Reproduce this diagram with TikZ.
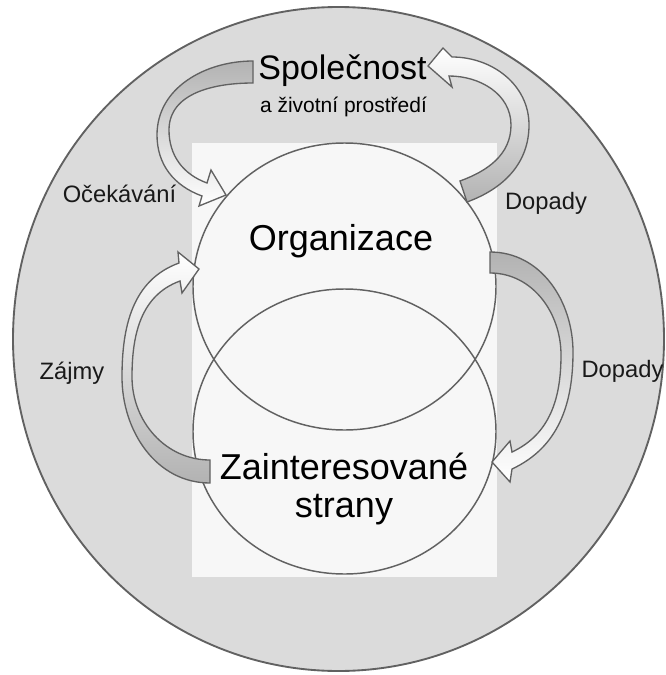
\documentclass[tikz,border=0pt]{standalone}
\usepackage{fontspec}
\setmainfont{Liberation Sans}
\begin{document}
\begin{tikzpicture}[x=0.75pt,y=0.75pt,
  ring/.style={draw=black!62, line width=1.4pt, fill=black!14},
  panel/.style={fill=black!3, draw=none},
  venn/.style={draw=black!62, line width=1.1pt},
  blockarrow/.style={draw=black!62, line width=1pt, line join=miter},
  tailup/.style={blockarrow, top color=black!30, bottom color=white},
  taildown/.style={blockarrow, bottom color=black!30, top color=white},
  title/.style={font=\fontsize{25.5}{30}\selectfont, inner sep=0pt, anchor=base},
  subtitle/.style={font=\fontsize{15.75}{19}\selectfont, inner sep=0pt, anchor=base},
  circletext/.style={font=\fontsize{27}{28.5}\selectfont, inner sep=0pt, anchor=base, align=center},
  flowlabel/.style={font=\fontsize{17.8}{21}\selectfont, inner sep=0pt, anchor=base, text=black!90}
]
\useasboundingbox (0,0) rectangle (665,-675);

% surroundings
\draw[ring] (338.5,-339) ellipse [x radius=325.5, y radius=332];
\fill[panel] (192,-143) rectangle (497,-577);

% organisation and stakeholders
\draw[venn] (344.5,-286.5) ellipse [x radius=151.5, y radius=143.5];
\draw[venn] (344.5,-431.5) ellipse [x radius=151.5, y radius=142.5];

% named ends of the flows
\coordinate (expTip) at (226,-195);
\coordinate (impTopTip) at (428,-66);
\coordinate (impRightTip) at (492,-462);
\coordinate (intTip) at (199,-269);

% expectations: society -> organisation
\path[tailup] (253,-61) to[out=180,in=90] (157,-135) to[out=270,in=160] (202,-196)
  -- (199,-206) -- (expTip) -- (211,-170) -- (207,-183)
  to[out=160,in=270] (169,-130) to[out=90,in=180] (253,-83) -- cycle;

% impacts: organisation -> society
\path[taildown] (467,-202) to[out=20,in=270] (529,-125) to[out=90,in=0] (452,-57)
  -- (443,-48) -- (impTopTip) -- (452,-87) -- (449,-76)
  to[out=0,in=90] (511,-125) to[out=270,in=20] (460,-181) -- cycle;

% impacts: organisation -> stakeholders
\path[tailup] (490,-252) to[out=0,in=90] (573,-352) to[out=270,in=25] (512,-469)
  -- (510,-482) -- (impRightTip) -- (510,-441) -- (512,-452)
  to[out=25,in=270] (561,-355) to[out=90,in=0] (490,-273) -- cycle;

% interests: stakeholders -> organisation
\path[taildown] (210,-483) to[out=180,in=270] (122,-377) to[out=90,in=200] (179,-263)
  -- (178,-252) -- (intTip) -- (182,-293) -- (180,-281)
  to[out=200,in=90] (132,-377) to[out=270,in=180] (210,-460) -- cycle;

% labels (a multi-line node sits on the baseline of its last line)
\node[title] (society) at (342.5,-79) {Společnost};
\node[subtitle] (environment) at (343.5,-112) {a životní prostředí};
\node[circletext] (organisation) at (341,-250) {Organizace};
\node[circletext] (stakeholders) at (344,-517) {Zainteresované\\strany};
\node[flowlabel] (expectations) at (119.5,-202) {Očekávání};
\node[flowlabel] (impactsTop) at (546,-209) {Dopady};
\node[flowlabel] (impactsRight) at (622.5,-377) {Dopady};
\node[flowlabel] (interests) at (72,-379) {Zájmy};
\end{tikzpicture}
\end{document}
